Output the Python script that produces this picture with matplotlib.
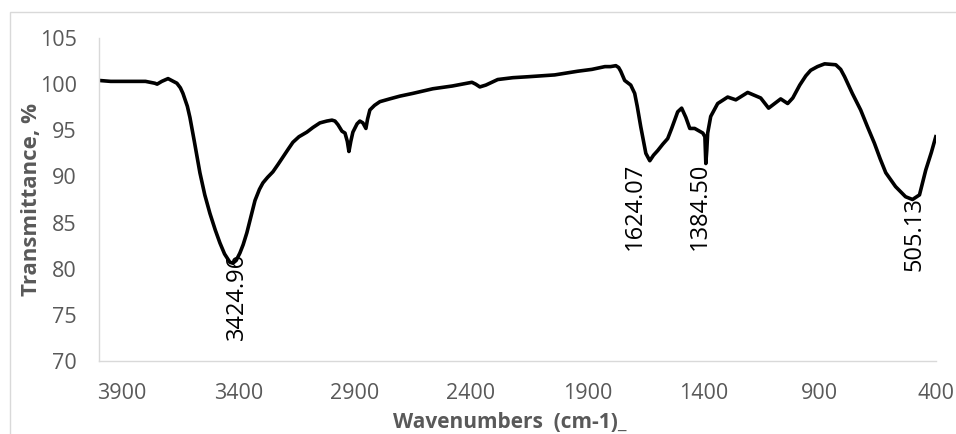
import matplotlib.pyplot as plt
from matplotlib.patches import Rectangle

plt.rcParams['font.family'] = ['Open Sans', 'DejaVu Sans']

# FTIR spectrum
wavenumber = [4000, 3950, 3900, 3850, 3800, 3760, 3750, 3730, 3703, 3680, 3665, 3650, 3639,
              3620, 3609, 3590, 3566, 3545, 3523, 3500, 3480, 3460, 3437, 3424, 3410, 3394,
              3380, 3364, 3345, 3329, 3310, 3295, 3275, 3252, 3230, 3209, 3185, 3166, 3140,
              3106, 3080, 3050, 3020, 2998, 2985, 2972, 2955, 2942, 2932, 2925, 2917, 2908,
              2890, 2878, 2865, 2852, 2845, 2835, 2815, 2792, 2750, 2706, 2650, 2564, 2480,
              2396, 2380, 2362, 2336, 2310, 2285, 2220, 2156, 2040, 1941, 1880, 1824, 1800,
              1777, 1765, 1756, 1739, 1713, 1696, 1685, 1670, 1648, 1631, 1615, 1597, 1575,
              1554, 1537, 1511, 1494, 1476, 1459, 1438, 1403, 1394, 1390, 1386, 1382, 1369,
              1339, 1296, 1261, 1210, 1154, 1120, 1068, 1038, 1016, 986, 960, 939, 910, 879,
              831, 810, 793, 760, 724, 695, 665, 640, 616, 574, 531, 501, 471, 444, 420, 401]
transmittance = [100.4, 100.3, 100.3, 100.3, 100.3, 100.1, 100.0, 100.3, 100.6, 100.3, 100.1,
                 99.6, 99.0, 97.6, 96.4, 93.8, 90.4, 88.0, 86.0, 84.2, 82.8, 81.6, 80.7, 80.6,
                 80.9, 81.7, 82.6, 83.9, 85.8, 87.4, 88.6, 89.3, 89.9, 90.5, 91.3, 92.1, 93.0,
                 93.7, 94.3, 94.8, 95.3, 95.8, 96.0, 96.1, 96.0, 95.6, 94.9, 94.7, 93.8, 92.7,
                 93.8, 94.8, 95.7, 96.0, 95.8, 95.2, 96.2, 97.2, 97.7, 98.1, 98.4, 98.7, 99.0,
                 99.5, 99.8, 100.2, 100.0, 99.7, 99.9, 100.2, 100.5, 100.7, 100.8, 101.0, 101.4,
                 101.6, 101.9, 101.9, 102.0, 101.8, 101.4, 100.4, 99.9, 99.0, 97.6, 95.4, 92.5,
                 91.7, 92.3, 92.8, 93.5, 94.1, 95.2, 97.0, 97.4, 96.4, 95.2, 95.2, 94.7, 94.3,
                 91.4, 92.8, 94.7, 96.5, 97.9, 98.6, 98.3, 99.1, 98.5, 97.4, 98.4, 97.9, 98.5,
                 99.9, 100.9, 101.5, 101.9, 102.2, 102.1, 101.6, 100.8, 99.0, 97.2, 95.4, 93.6,
                 91.9, 90.4, 88.9, 87.8, 87.5, 88.0, 90.7, 92.6, 94.3]

peak_labels = ['3424.96', '1624.07', '1384.50', '505.13']
label_x = [3407, 1696, 1416, 492]
label_y = [81.7, 91.5, 91.5, 87.8]

xticks = [3900, 3400, 2900, 2400, 1900, 1400, 900, 400]
yticks = [70, 75, 80, 85, 90, 95, 100, 105]

fig = plt.figure(figsize=(9.56, 4.34), dpi=100)
ax = fig.add_axes([99/956, 1-361/434, (936-99)/956, (361-38)/434])

# light gray chart-area frame (cropped at right and bottom)
fig.patches.append(Rectangle((10/956, -0.1), 1.0, 1 - 12/434 + 0.1, transform=fig.transFigure,
                             fill=False, edgecolor='#d9d9d9', linewidth=1.0))

ax.plot(wavenumber, transmittance, color='black', linewidth=2.6, solid_joinstyle='round')

for txt, lx, ly in zip(peak_labels, label_x, label_y):
    ax.text(lx, ly, txt, rotation=90, ha='center', va='top', fontsize=17, color='black')

ax.set_xlim(4000, 400)
ax.set_ylim(70, 105)
ax.set_xticks(xticks)
ax.set_yticks(yticks)
ax.tick_params(length=0, labelsize=15.5, labelcolor='#595959')
ax.tick_params(axis='x', pad=16)
ax.tick_params(axis='y', pad=16)

for s in ['top', 'right']:
    ax.spines[s].set_visible(False)
for s in ['left', 'bottom']:
    ax.spines[s].set_color('#d9d9d9')
    ax.spines[s].set_linewidth(1.0)

ax.set_xlabel('Wavenumbers  (cm-1)_', fontsize=15, fontweight='bold', color='#595959')
ax.set_ylabel('Transmittance, %', fontsize=16, fontweight='bold', color='#595959')
ax.xaxis.set_label_coords(0.491, -0.158)
ax.yaxis.set_label_coords(-0.068, 0.5)

fig.savefig('out.png', dpi=100)
